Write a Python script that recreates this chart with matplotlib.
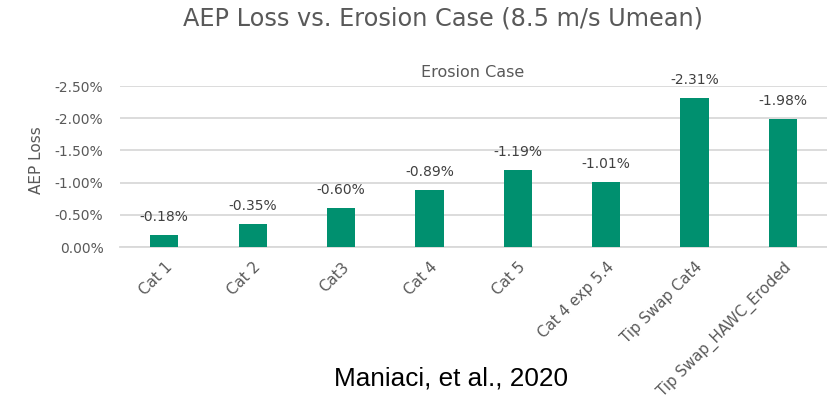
import numpy as np
import matplotlib.pyplot as plt
from matplotlib.ticker import FuncFormatter

categories = ['Cat 1', 'Cat 2', 'Cat3', 'Cat 4', 'Cat 5', 'Cat 4 exp 5.4',
              'Tip Swap Cat4', 'Tip Swap_HAWC_Eroded']
aep_loss = [-0.18, -0.35, -0.60, -0.89, -1.19, -1.01, -2.31, -1.98]  # percent
y_ticks = [0.0, -0.5, -1.0, -1.5, -2.0, -2.5]

bar_color = '#00906F'
text_gray = '#595959'
grid_gray = '#D9D9D9'
font = ['DejaVu Sans']

fig = plt.figure(figsize=(8.28, 4.04), dpi=100)
ax = fig.add_axes([0.145, 0.3886, 0.854, 0.3985])

x = np.arange(len(categories))
bars = ax.bar(x, aep_loss, width=0.32, color=bar_color, zorder=3)

ax.set_xlim(-0.5, len(categories) - 0.5)
ax.set_ylim(0, -2.5)
ax.set_yticks(y_ticks)
ax.yaxis.set_major_formatter(FuncFormatter(lambda v, p: f"{v:.2f}%" if v != 0 else "0.00%"))
ax.grid(axis='y', color=grid_gray, linewidth=1.3, zorder=0)
ax.set_axisbelow(True)

for s in ['top', 'right', 'left']:
    ax.spines[s].set_visible(False)
ax.spines['bottom'].set_color(grid_gray)
ax.spines['bottom'].set_linewidth(1.3)

ax.tick_params(axis='y', length=0, pad=12, labelsize=10, labelcolor=text_gray)
ax.tick_params(axis='x', length=0, pad=9, labelsize=10.8, labelcolor=text_gray)
for lab in ax.get_yticklabels():
    lab.set_family(font)

ax.set_xticks(x)
ax.set_xticklabels(categories, rotation=45, ha='right', rotation_mode='anchor',
                   family=font)

for b, v in zip(bars, aep_loss):
    ax.annotate(f"{v:.2f}%", (b.get_x() + b.get_width() / 2, v),
                xytext=(0, 8), textcoords='offset points', ha='center', va='bottom',
                fontsize=10, color='#404040', family=font, annotation_clip=False)

fig.text(0.0435, 0.604, 'AEP Loss', rotation=90, ha='center', va='center',
         fontsize=11, color=text_gray, family=font)

fig.text(0.535, 0.953, 'AEP Loss vs. Erosion Case (8.5 m/s Umean)', ha='center', va='center',
         fontsize=17.3, color=text_gray, family=font)
fig.text(0.571, 0.821, 'Erosion Case', ha='center', va='center',
         fontsize=11.5, color=text_gray, family=font)
fig.text(0.545, 0.062, 'Maniaci, et al., 2020', ha='center', va='center',
         fontsize=18.8, color='black', family=['Liberation Sans', 'DejaVu Sans'])

fig.savefig('out.png', dpi=100)
